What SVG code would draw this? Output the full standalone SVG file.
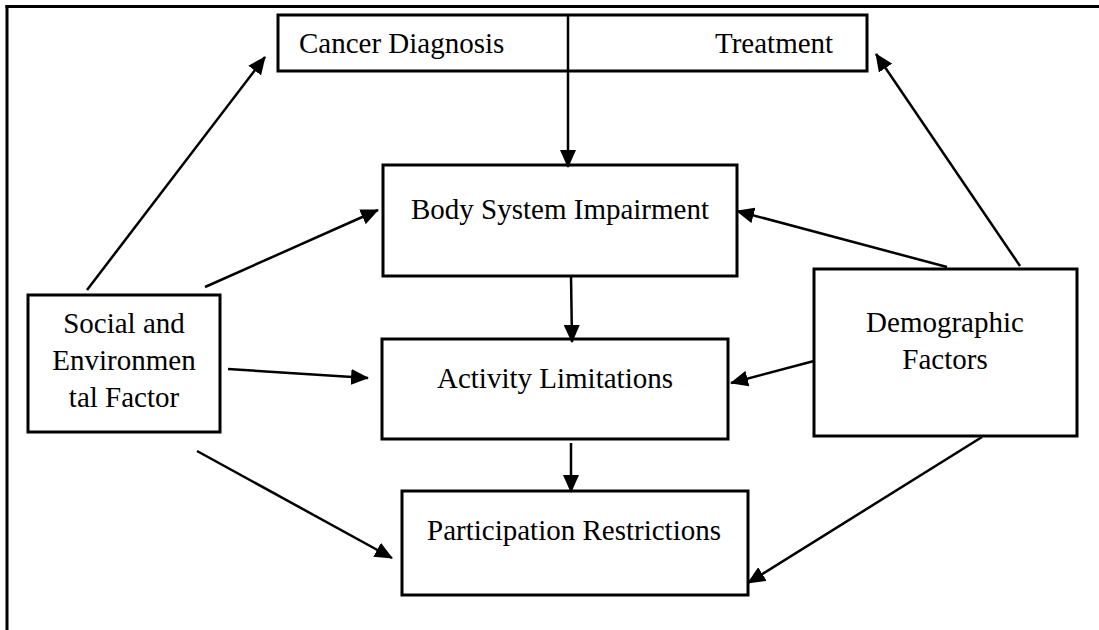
<svg xmlns="http://www.w3.org/2000/svg" width="1099" height="630" viewBox="0 0 1099 630">
<style>
.box{fill:#fff;stroke:#000;stroke-width:3}
.t{font-family:"Liberation Serif","Times New Roman",serif;font-size:29px;fill:#000}
.c{text-anchor:middle}
.ln{stroke:#000;stroke-width:2.5;fill:none}
.ar{stroke:#000;stroke-width:2.5;fill:none;marker-end:url(#ah)}
</style>
<defs>
<marker id="ah" markerUnits="userSpaceOnUse" markerWidth="18" markerHeight="16" viewBox="0 0 18 16" refX="17" refY="8" orient="auto">
<path d="M0,0 L18,8 L0,16 Z" fill="#000"/>
</marker>
</defs>
<rect width="1099" height="630" fill="#fff"/>
<g id="frame">
<line class="ln" x1="5.5" y1="6.5" x2="1099" y2="6.5" style="stroke-width:3"/>
<line class="ln" x1="7" y1="5" x2="7" y2="630" style="stroke-width:3"/>
</g>
<g id="top">
<rect class="box" x="278" y="15" width="589" height="56"/>
<text class="t" x="299" y="53">Cancer Diagnosis</text>
<text class="t" x="715" y="53">Treatment</text>
</g>
<g id="body">
<rect class="box" x="383" y="165" width="354" height="111"/>
<text class="t c" x="560" y="219">Body System Impairment</text>
</g>
<g id="activity">
<rect class="box" x="382" y="339" width="346" height="100"/>
<text class="t c" x="555" y="388">Activity Limitations</text>
</g>
<g id="participation">
<rect class="box" x="402" y="491" width="346" height="104"/>
<text class="t c" x="574" y="540">Participation Restrictions</text>
</g>
<g id="social">
<rect class="box" x="28" y="295" width="192" height="137"/>
<text class="t c" x="124" y="333">Social and</text>
<text class="t c" x="124" y="370">Environmen</text>
<text class="t c" x="124" y="407">tal Factor</text>
</g>
<g id="demographic">
<rect class="box" x="814" y="269" width="263" height="167"/>
<text class="t c" x="945" y="332">Demographic</text>
<text class="t c" x="945" y="369">Factors</text>
</g>
<g id="connectors">
<line class="ar" x1="568" y1="15" x2="568" y2="167"/>
<line class="ar" x1="571" y1="275" x2="572" y2="342"/>
<line class="ar" x1="571" y1="443" x2="571" y2="492"/>
<line class="ar" x1="87" y1="290" x2="265" y2="57"/>
<line class="ar" x1="205" y1="287" x2="378" y2="210"/>
<line class="ar" x1="228" y1="369" x2="368" y2="378"/>
<line class="ar" x1="197" y1="451" x2="392" y2="558"/>
<line class="ar" x1="1020" y1="266" x2="876" y2="54"/>
<line class="ar" x1="947" y1="267" x2="737" y2="211"/>
<line class="ar" x1="814" y1="361" x2="731" y2="383"/>
<line class="ar" x1="982" y1="437" x2="748" y2="583"/>
</g>
</svg>
